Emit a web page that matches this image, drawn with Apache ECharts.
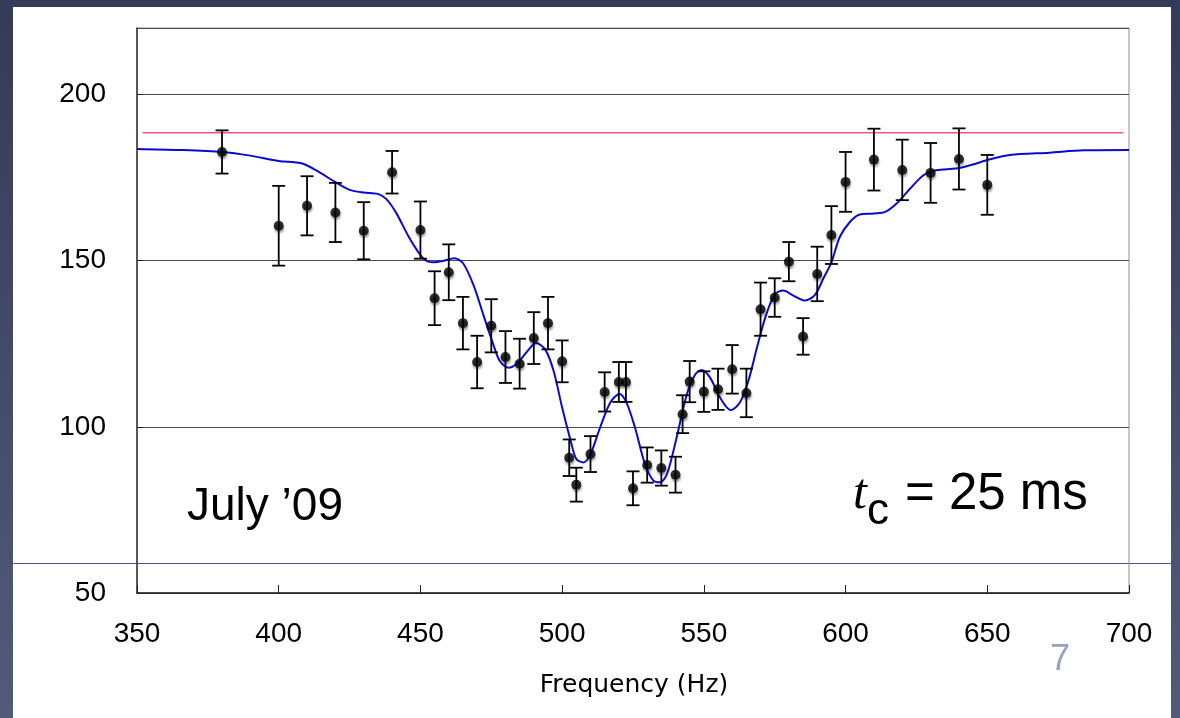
<!DOCTYPE html>
<html>
<head>
<meta charset="utf-8">
<script src="https://cdn.jsdelivr.net/npm/echarts@6/dist/echarts.min.js"></script>
<style>
html, body { margin: 0; padding: 0; }
body {
  width: 1180px; height: 718px; overflow: hidden; position: relative;
  background: linear-gradient(180deg, #343b58 0%, #525a7b 100%);
}
#slide { position: absolute; left: 13px; top: 7px; width: 1158px; height: 711px; background: #fff; }
#rule { position: absolute; left: 13px; top: 563px; width: 1158px; height: 1px; background: #4f5776; }
#chart { position: absolute; left: 0; top: 0; width: 1180px; height: 718px; }
</style>
</head>
<body>
<div id="slide"></div>
<div id="rule"></div>
<div id="chart"></div>
<script>
// Measured points: drive frequency (Hz), signal value, half-length of error bar
const freq = [380, 400, 410, 420, 430, 440, 450, 455, 460, 465, 470, 475, 480, 485, 490, 495, 500,
  502.5, 505, 510, 515, 520, 522.5, 525, 530, 535, 540, 542.5, 545, 550, 555, 560, 565, 570, 575,
  580, 585, 590, 595, 600, 610, 620, 630, 640, 650];
const value = [182.7, 160.5, 166.5, 164.5, 159, 176.6, 159.2, 138.7, 146.5, 131.2, 119.5, 130.4, 121,
  119, 126.7, 131.2, 119.7, 90.7, 82.6, 91.8, 110.5, 113.5, 113.5, 81.5, 88.5, 87.6, 85.6, 103.8,
  113.6, 110.6, 111.3, 117.3, 110.2, 135.4, 138.9, 149.7, 127.2, 146, 157.7, 173.7, 180.4, 177.3,
  176.4, 180.6, 172.8];
const err = [6.5, 12, 8.9, 8.9, 8.6, 6.4, 8.6, 8.1, 8.4, 7.9, 7.9, 8, 7.8, 7.5, 7.8, 7.9, 6.3, 5.5,
  5.1, 5.4, 5.9, 6, 6, 5.1, 5.3, 5.3, 5.4, 5.7, 6.2, 6.1, 6.2, 7.3, 7.3, 8, 5.8, 5.9, 5.5, 8.2, 8.7,
  9, 9.3, 9.1, 9, 9.2, 9];

// Model curve
const fitFreq = [350, 365, 380, 390, 400, 408, 413, 420, 425, 430, 435, 438, 441.5, 446, 451, 454.5,
  458, 462, 465, 468.7, 472.2, 475.7, 478, 481, 484, 487.5, 490.8, 494, 497, 500, 503, 505, 507.5,
  510, 513.4, 517, 520.2, 522.7, 525.7, 529.2, 532.2, 534.5, 537, 540.4, 544, 547, 549.2, 552.2,
  555.7, 559.5, 562.7, 565.7, 568.7, 571.6, 575, 578, 581.6, 585.7, 589.2, 592.2, 595, 598, 601.6,
  605, 610, 614, 618, 622.8, 627.5, 632, 639, 644, 651, 658, 672, 684, 700];
const fitVal = [183.6, 183.3, 182.7, 181.6, 180.0, 179.3, 177.3, 173.6, 171.3, 170.5, 170.1, 168.5,
  164.3, 157, 150.7, 149.5, 149.9, 150.7, 149.3, 142.7, 133.7, 124.8, 119.8, 117.8, 119, 122.5,
  125.2, 123.3, 116.8, 105.8, 95.8, 90.3, 89.3, 91.8, 99.8, 107.3, 109.9, 107.3, 99.8, 88.8, 83.8,
  83.3, 85.8, 96.8, 109.8, 115.8, 117.1, 114.8, 108.8, 105, 107.3, 113.8, 123.7, 132.7, 139.9, 141,
  139.5, 138, 139.7, 144.7, 149.5, 157.2, 161.7, 163.9, 164.2, 164.7, 167.2, 171.7, 175.7, 177.2,
  177.7, 178.7, 180.5, 181.8, 182.5, 183.2, 183.3];

// Reference level
const refLevel = 188.5;
const refRange = [352, 698];

// Axis ranges
const xRange = [350, 700], xStep = 50;
const yRange = [50, 220], yStep = 50;

const chart = echarts.init(document.getElementById('chart'), null, { renderer: 'canvas' });

const points = freq.map((f, i) => [f, value[i]]);
const bars = freq.map((f, i) => [f, value[i] - err[i], value[i] + err[i]]);
const fit = fitFreq.map((f, i) => [f, fitVal[i]]);
const ref = refRange.map(f => [f, refLevel]);

const SANS = '"Liberation Sans", Arial, sans-serif';

chart.setOption({
  backgroundColor: 'transparent',
  animation: false,
  grid: {
    left: 137, right: 51, top: 28, bottom: 125,
    show: true, borderColor: '#8e8e8e', borderWidth: 1, backgroundColor: 'transparent'
  },
  xAxis: {
    type: 'value', min: xRange[0], max: xRange[1], interval: xStep,
    axisLine: { lineStyle: { color: '#222', width: 1.5 } },
    axisTick: { inside: true, length: 8, lineStyle: { color: '#222', width: 1 } },
    splitLine: { show: false },
    axisLabel: { fontFamily: SANS, fontSize: 28, color: '#000', margin: 27 }
  },
  yAxis: {
    type: 'value', min: yRange[0], max: yRange[1], interval: yStep,
    axisLine: { show: true, lineStyle: { color: '#333', width: 1.5 } },
    axisTick: { show: true, inside: true, length: 6, lineStyle: { color: '#222', width: 1 } },
    splitLine: { show: true, lineStyle: { color: '#4a4a4a', width: 1 } },
    axisLabel: { fontFamily: SANS, fontSize: 28, color: '#000', margin: 31, showMaxLabel: false }
  },
  series: [
    {
      type: 'line', data: ref, showSymbol: false, symbol: 'none', silent: true,
      lineStyle: { color: '#f24f9e', width: 1.5 }, z: 2
    },
    {
      type: 'line', data: fit, showSymbol: false, symbol: 'none', silent: true,
      smooth: 0.3,
      lineStyle: { color: '#0a0ad0', width: 2 }, z: 3
    },
    {
      type: 'custom', data: bars, encode: { x: 0, y: [1, 2] }, z: 4, silent: true,
      renderItem: function (params, api) {
        const x = api.value(0);
        const top = api.coord([x, api.value(2)]);
        const bot = api.coord([x, api.value(1)]);
        const w = 6.5;
        const style = { stroke: '#000', lineWidth: 1.8 };
        return {
          type: 'group',
          children: [
            { type: 'line', shape: { x1: top[0], y1: top[1], x2: bot[0], y2: bot[1] }, style: style },
            { type: 'line', shape: { x1: top[0] - w, y1: top[1], x2: top[0] + w, y2: top[1] }, style: style },
            { type: 'line', shape: { x1: bot[0] - w, y1: bot[1], x2: bot[0] + w, y2: bot[1] }, style: style }
          ]
        };
      }
    },
    {
      type: 'scatter', data: points, symbol: 'circle', symbolSize: 10, z: 5, silent: true,
      itemStyle: {
        color: '#000', shadowColor: 'rgba(0,0,0,0.45)', shadowBlur: 2, shadowOffsetX: 0.5, shadowOffsetY: 2.5
      }
    }
  ],
  graphic: [
    {
      type: 'text', x: 187, y: 507,
      style: { text: 'July \u201909', font: '46px ' + SANS, fill: '#000', textAlign: 'left', textVerticalAlign: 'middle' }
    },
    {
      type: 'text', x: 853, y: 495,
      style: { text: 't', font: 'italic 50px "Liberation Serif", "Times New Roman", serif', fill: '#000', textAlign: 'left', textVerticalAlign: 'middle' }
    },
    {
      type: 'text', x: 867, y: 512,
      style: { text: 'c', font: '44px ' + SANS, fill: '#000', textAlign: 'left', textVerticalAlign: 'middle' }
    },
    {
      type: 'text', x: 905, y: 495,
      style: { text: '= 25 ms', font: '51px ' + SANS, fill: '#000', textAlign: 'left', textVerticalAlign: 'middle' }
    },
    {
      type: 'text', x: 634, y: 685,
      style: { text: 'Frequency (Hz)', font: '25px "DejaVu Sans", sans-serif', fill: '#000', textAlign: 'center', textVerticalAlign: 'middle' }
    },
    {
      type: 'text', x: 1050, y: 660,
      style: { text: '7', font: '36px ' + SANS, fill: '#97a2be', textAlign: 'left', textVerticalAlign: 'middle' }
    }
  ]
});
</script>
</body>
</html>
